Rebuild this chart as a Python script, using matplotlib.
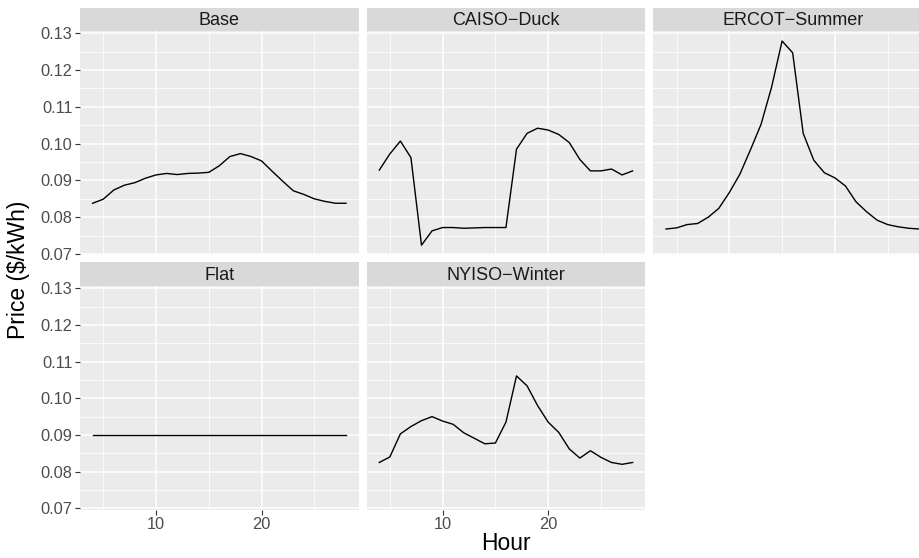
import numpy as np
import matplotlib
import matplotlib.pyplot as plt
from matplotlib.ticker import MultipleLocator

matplotlib.use('Agg')
plt.rcParams['font.family'] = ['Liberation Sans', 'DejaVu Sans']

hours = list(range(4, 29))

base = [0.0838, 0.0849, 0.0874, 0.0887, 0.0894, 0.0906, 0.0915, 0.0919, 0.0916, 0.0919,
        0.0920, 0.0922, 0.0940, 0.0965, 0.0973, 0.0965, 0.0953, 0.0925, 0.0898, 0.0872,
        0.0862, 0.0850, 0.0843, 0.0838, 0.0838]
caiso = [0.0928, 0.0972, 0.1007, 0.0962, 0.0724, 0.0763, 0.0772, 0.0772, 0.0770, 0.0771,
         0.0772, 0.0772, 0.0772, 0.0985, 0.1028, 0.1042, 0.1037, 0.1025, 0.1003, 0.0957,
         0.0926, 0.0926, 0.0931, 0.0915, 0.0926]
ercot = [0.0768, 0.0771, 0.0780, 0.0783, 0.0800, 0.0824, 0.0867, 0.0917, 0.0983, 0.1052,
         0.1153, 0.1279, 0.1247, 0.1028, 0.0955, 0.0921, 0.0907, 0.0885, 0.0842, 0.0815,
         0.0792, 0.0780, 0.0774, 0.0770, 0.0768]
flat = [0.09] * 25
nyiso = [0.0825, 0.0840, 0.0903, 0.0923, 0.0939, 0.0950, 0.0938, 0.0929, 0.0906, 0.0891,
         0.0876, 0.0878, 0.0935, 0.1061, 0.1034, 0.0980, 0.0935, 0.0907, 0.0862, 0.0837,
         0.0857, 0.0839, 0.0825, 0.0820, 0.0825]

panel_names = ['Base', 'CAISO\u2212Duck', 'ERCOT\u2212Summer', 'Flat', 'NYISO\u2212Winter']
panel_series = [base, caiso, ercot, flat, nyiso]

# ggplot-style 5% expansion on shared scales
all_y = np.concatenate([np.array(s) for s in panel_series])
ypad = (all_y.max() - all_y.min()) * 0.05
ylim = (all_y.min() - ypad, all_y.max() + ypad)
xpad = (max(hours) - min(hours)) * 0.05
xlim = (min(hours) - xpad, max(hours) + xpad)

W, H = 920, 558
fig = plt.figure(figsize=(W / 100, H / 100), dpi=100)
fig.patch.set_facecolor('white')

col_left = [80, 366.6, 653.3]
col_w = 278.7
rows = [(30.8, 255.4, 8.0), (285.8, 509.7, 262.5)]  # panel top, panel bottom, strip top

tick_c = '#4D4D4D'
for i, (name, ser) in enumerate(zip(panel_names, panel_series)):
    r, c = divmod(i, 3)
    ptop, pbot, stop = rows[r]
    ax = fig.add_axes([col_left[c] / W, 1 - pbot / H, col_w / W, (pbot - ptop) / H])
    ax.set_facecolor('#EBEBEB')
    for s in ax.spines.values():
        s.set_visible(False)
    ax.set_xlim(*xlim)
    ax.set_ylim(*ylim)
    ax.xaxis.set_major_locator(MultipleLocator(10))
    ax.xaxis.set_minor_locator(MultipleLocator(5))
    ax.yaxis.set_major_locator(MultipleLocator(0.01))
    ax.yaxis.set_minor_locator(MultipleLocator(0.005))
    ax.grid(which='major', color='white', linewidth=1.1)
    ax.grid(which='minor', color='white', linewidth=0.55)
    ax.set_axisbelow(True)
    ax.plot(hours, ser, color='black', linewidth=1.0)

    ax.tick_params(which='minor', length=0)
    ax.tick_params(which='major', length=3.5, width=0.8, color='#333333',
                   labelsize=11.8, labelcolor=tick_c, pad=2)
    if c == 0:
        ax.yaxis.set_major_formatter(matplotlib.ticker.FormatStrFormatter('%.2f'))
    else:
        ax.tick_params(axis='y', left=False, labelleft=False)
    if r != 1:
        ax.tick_params(axis='x', bottom=False, labelbottom=False)

    sax = fig.add_axes([col_left[c] / W, 1 - ptop / H, col_w / W, (ptop - stop) / H])
    sax.set_facecolor('#D9D9D9')
    sax.set_xticks([])
    sax.set_yticks([])
    for s in sax.spines.values():
        s.set_visible(False)
    sax.text(0.5, 0.45, name, transform=sax.transAxes, ha='center', va='center',
             fontsize=13, color='#1A1A1A')

fig.text(506 / W, 1 - 543 / H, 'Hour', ha='center', va='center', fontsize=16.5, color='black')
fig.text(19 / W, 1 - 270 / H, 'Price ($/kWh)', ha='center', va='center', rotation=90,
         fontsize=16.5, color='black')

fig.savefig('out.png', dpi=100)
